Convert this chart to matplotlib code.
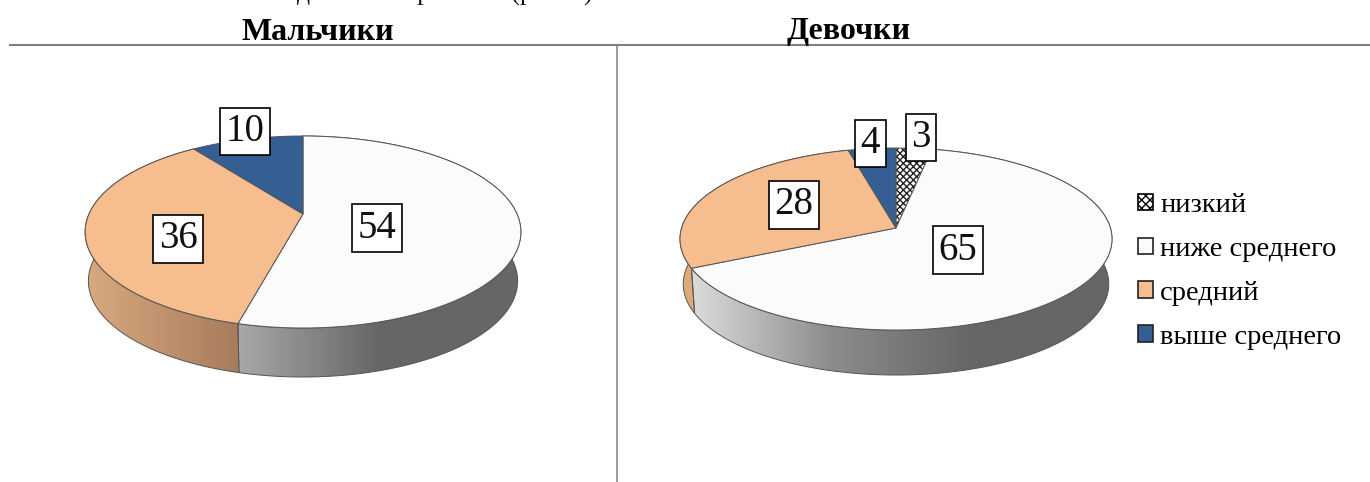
import numpy as np
import matplotlib
matplotlib.use('Agg')
import matplotlib.pyplot as plt
from matplotlib.colors import LinearSegmentedColormap
from matplotlib.patches import Patch, Polygon

plt.rcParams['font.family'] = ['Liberation Serif', 'DejaVu Serif']
plt.rcParams['hatch.linewidth'] = 1.0

# данные
categories = ["низкий", "ниже среднего", "средний", "выше среднего"]
boys = [0, 54, 36, 10]
girls = [3, 65, 28, 4]
titles = ["Мальчики", "Девочки"]
header_text = "по особенностям в данной возрастной (рис. 1)."

COLORS = ["#ffffff", "#fbfbfb", "#f6bd8e", "#355f92"]
EDGE = "#555555"

# геометрия: apex, rx, k (перспектива), a, глубина
PIE_L = dict(cx=303, cy=214, rx=214, k=0.1875, a=-52.5, depth=49)
PIE_R = dict(cx=896, cy=228, rx=214.4, k=0.121, a=-62.1, depth=45)

SIDE_L = {1: ["#a8a8a8", "#666666", "#666666"], 2: ["#d8aa80", "#a87c5c"]}
SIDE_R = {1: ["#dcdcdc", "#8c8c8c", "#666666", "#666666"], 2: ["#e0aa78", "#e0aa78"]}

LABELS_L = {1: (377, 228), 2: (178, 239), 3: (245, 131.5)}
LABELS_R = {0: (921, 137.5), 1: (958, 250), 2: (794, 205), 3: (870.5, 143.5)}


def rim(pie, t0, t1):
    t = np.radians(np.linspace(t0, t1, max(int(abs(t1 - t0)) * 2, 2)))
    u, v = np.sin(t), np.cos(t)
    den = 1 + pie["k"] * v
    return pie["cx"] + pie["rx"] * u / den, (pie["a"] * v + pie["cy"]) / den


def draw_pie(ax, values, pie, side_colors, label_pos):
    bounds = 360 * np.cumsum([0] + values) / sum(values)

    # боковая поверхность
    for i, stops in side_colors.items():
        x, y = rim(pie, bounds[i], bounds[i + 1])
        xb = pie["cx"] + (x - pie["cx"]) * 0.985
        pts = np.r_[np.c_[x, y], np.c_[xb, y + pie["depth"]][::-1]]
        clip = Polygon(pts, closed=True, facecolor="none", edgecolor=EDGE, linewidth=0.7, zorder=2)
        ax.add_patch(clip)
        cmap = LinearSegmentedColormap.from_list("side", stops)
        img = ax.imshow(np.linspace(0, 1, 256)[None, :], cmap=cmap, aspect="auto", zorder=1,
                        extent=(x.min(), x.max(), y.max() + pie["depth"], y.min()))
        img.set_clip_path(clip)

    # верхняя грань
    for i, val in enumerate(values):
        if val == 0:
            continue
        x, y = rim(pie, bounds[i], bounds[i + 1])
        pts = np.r_[[[pie["cx"], pie["cy"]]], np.c_[x, y]]
        if categories[i] == "низкий":
            ax.add_patch(Polygon(pts, closed=True, facecolor="white", edgecolor="#222222",
                                 hatch="xxxxx", linewidth=0, zorder=3))
            ax.add_patch(Polygon(pts, closed=True, fill=False, edgecolor=EDGE, linewidth=0.6, zorder=3))
        else:
            ax.add_patch(Polygon(pts, closed=True, facecolor=COLORS[i], edgecolor=EDGE,
                                 linewidth=0.7, zorder=3))

    for i, (lx, ly) in label_pos.items():
        ax.text(lx, ly, str(values[i]), fontsize=28, ha="center", va="center", zorder=5, color="#111111",
                bbox=dict(boxstyle="square,pad=0.14", facecolor="white", edgecolor="black", linewidth=1.2))


fig = plt.figure(figsize=(13.7, 4.82), dpi=100)
ax = fig.add_axes([0, 0, 1, 1])

draw_pie(ax, boys, PIE_L, SIDE_L, LABELS_L)
draw_pie(ax, girls, PIE_R, SIDE_R, LABELS_R)

ax.set_xlim(0, 1370)
ax.set_ylim(482, 0)
ax.axis("off")

# разделительные линии таблицы
ax.plot([10, 1370], [45, 45], color="#808080", linewidth=1.5, zorder=1)
ax.plot([617.5, 617.5], [45, 482], color="#808080", linewidth=1.1, zorder=1)

ax.text(85, 0, header_text, fontsize=18.5, ha="left", va="baseline", color="#111111")
ax.text(318, 39.5, titles[0], fontsize=23, fontweight="bold", ha="center", va="baseline", color="black")
ax.text(849, 39.5, titles[1], fontsize=23, fontweight="bold", ha="center", va="baseline", color="black")

handles = []
for i, name in enumerate(categories):
    if name == "низкий":
        handles.append(Patch(facecolor="white", edgecolor="black", hatch="xxxx", linewidth=1.2, label=name))
    else:
        handles.append(Patch(facecolor=COLORS[i], edgecolor="#222222", linewidth=1.2, label=name))
ax.legend(handles=handles, loc="center left", bbox_to_anchor=(1138 / 1370, 1 - 271.5 / 482), frameon=False,
          fontsize=20.5, handlelength=0.53, handleheight=0.53, handletextpad=0.25, labelspacing=0.665,
          borderpad=0, borderaxespad=0)

plt.savefig("out.png", dpi=100)
plt.close()
